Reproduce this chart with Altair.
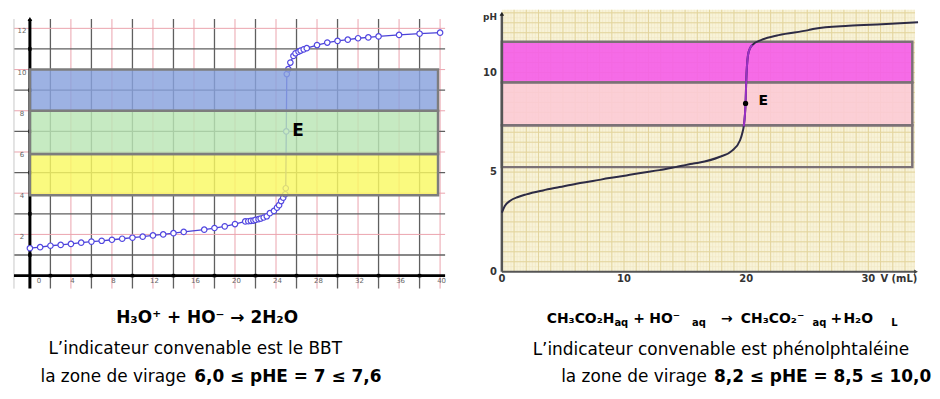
import altair as alt
import pandas as pd
import numpy as np

# ---------------- data: left panel (strong acid titration) ----------------
left_V = [0, 1, 2, 3, 4, 5, 6, 7, 8, 9, 10, 11, 12, 13, 14, 15, 17, 18, 19, 20,
          21.0, 21.3, 21.55, 21.8, 22.0, 22.3, 22.5, 22.8, 23.1, 23.4, 23.8, 24.1,
          24.3, 24.5, 24.7, 24.9, 24.95, 25.0, 25.05, 25.2, 25.4, 25.7, 25.9, 26.2,
          26.4, 26.7, 27.0, 28, 29, 30, 31, 32, 33, 34, 36, 38, 40]
left_pH = [1.33, 1.38, 1.45, 1.49, 1.54, 1.60, 1.65, 1.69, 1.74, 1.79, 1.84, 1.89,
           1.95, 2.00, 2.06, 2.12, 2.23, 2.31, 2.39, 2.50,
           2.63, 2.64, 2.66, 2.67, 2.71, 2.74, 2.77, 2.82, 2.88, 3.03, 3.14, 3.30,
           3.42, 3.62, 3.78, 3.95, 4.24, 7.0, 9.78, 10.02, 10.34, 10.66, 10.79, 10.87,
           10.92, 10.98, 11.04, 11.19, 11.31, 11.39, 11.45, 11.52, 11.56, 11.61,
           11.68, 11.74, 11.79]
left_band_lo = [3.9, 5.9, 8.0]
left_band_hi = [5.9, 8.0, 10.0]
left_band_colors = ["#f9f963", "#bae5b5", "#88a1dd"]
left_band_end = 39.8
left_E = (25.0, 7.0)
left_x_ticks = [0, 4, 8, 12, 16, 20, 24, 28, 32, 36, 40]
left_y_ticks = [2, 4, 6, 8, 10, 12]
left_red_v = [4, 8, 12, 16, 20, 24, 28, 32, 36, 40]
left_black_v = [2, 6, 10, 14, 18, 22, 26, 30, 34, 38]
left_red_h = [2, 4, 6, 8, 10, 12]
left_black_h = [1, 3, 5, 7, 9, 11]

# ---------------- data: right panel (weak acid titration) ----------------
right_V = [0, 0.24, 0.65, 1.33, 2.0, 3.37, 4.73, 6.1, 7.45, 8.8, 10.2, 11.5, 12.9,
           14.2, 15.6, 16.1, 17.8, 18.85, 19.5, 19.7, 19.8, 19.9, 19.95, 20.0,
           20.15, 20.3, 20.5, 21.3, 22.66, 25.1, 25.6, 28.4, 31.1, 34.07]
right_pH = [2.97, 3.3, 3.55, 3.75, 3.88, 4.08, 4.25, 4.42, 4.55, 4.70, 4.83, 4.97,
            5.10, 5.25, 5.42, 5.47, 5.76, 6.08, 6.6, 7.0, 7.3, 7.9, 8.45, 9.5,
            10.88, 11.2, 11.38, 11.65, 11.88, 12.13, 12.2, 12.35, 12.43, 12.52]
right_band_lo = [9.5, 7.35]
right_band_hi = [11.55, 9.5]
right_band_colors = ["#f55ce9", "#fccbd6"]
right_outline_lo = 5.25
right_outline_hi = 7.35
right_band_end = 33.6
right_E = (19.95, 8.45)
right_x_ticks = [0, 10, 20, 30]
right_y_ticks = [0, 5, 10]

# ---------------- texts ----------------
left_line1 = "H₃O⁺ + HO⁻ → 2H₂O"
left_line2 = "L’indicateur convenable est le BBT"
left_line3a = "la zone de virage"
left_line3b = "6,0 ≤ pHE = 7 ≤ 7,6"
right_line1 = ["CH₃CO₂H", "aq", "+", "HO⁻", "aq", "→", "CH₃CO₂⁻", "aq", "+", "H₂O", "L"]
right_line2 = "L’indicateur convenable est phénolphtaléine"
right_line3a = "la zone de virage"
right_line3b = "8,2 ≤ pHE = 8,5 ≤ 10,0"

FONT = "DejaVu Sans"

# ---------------- scales ----------------
LW, LH = 433, 280
RW, RH = 418, 280
sxL = alt.Scale(domain=[-1.553, 40.49], nice=False, zero=False)
syL = alt.Scale(domain=[-0.63, 12.9], nice=False, zero=False)
sxR = alt.Scale(domain=[0, 34.07], nice=False, zero=False)
syR = alt.Scale(domain=[-0.85, 13.15], nice=False, zero=False)


def X(f, s):
    return alt.X(f, type="quantitative", scale=s, axis=None)


def Y(f, s):
    return alt.Y(f, type="quantitative", scale=s, axis=None)


def one(**kw):
    return pd.DataFrame({k: [v] for k, v in kw.items()})


def txt(t, x, y, size=17, weight="normal", align="left", color="black"):
    return alt.Chart(one(t=t)).mark_text(
        font=FONT, fontSize=size, fontWeight=weight, align=align,
        baseline="alphabetic", color=color
    ).encode(text="t:N", x=alt.value(x), y=alt.value(y))


# ================= LEFT PANEL =================
lgv = pd.concat([
    pd.DataFrame({"v": left_red_v, "c": "#eba3ad", "w": 1.0}),
    pd.DataFrame({"v": left_black_v, "c": "#5f5f5f", "w": 1.3}),
])
lgh = pd.concat([
    pd.DataFrame({"v": left_red_h, "c": "#eba3ad", "w": 1.0}),
    pd.DataFrame({"v": left_black_h, "c": "#5f5f5f", "w": 1.3}),
])
grid_top, grid_bot, grid_left, grid_right = 12.45, -0.63, -1.553, 40.49

l_vgrid = alt.Chart(lgv).mark_rule().encode(
    x=X("v", sxL), y=alt.Y("a:Q", scale=syL, axis=None), y2="b:Q",
    color=alt.Color("c:N", scale=None), strokeWidth=alt.StrokeWidth("w:Q", scale=None)
).transform_calculate(a=str(grid_bot), b=str(grid_top))
l_hgrid = alt.Chart(lgh).mark_rule().encode(
    y=Y("v", syL), x=alt.X("a:Q", scale=sxL, axis=None), x2="b:Q",
    color=alt.Color("c:N", scale=None), strokeWidth=alt.StrokeWidth("w:Q", scale=None)
).transform_calculate(a=str(grid_left), b=str(grid_right))
l_edge = alt.Chart(one(v=grid_left, a=grid_bot, b=grid_top)).mark_rule(
    color="#c8c8c8", strokeWidth=1).encode(x=X("v", sxL), y=Y("a", syL), y2="b")

ldf = pd.DataFrame({"V": left_V, "pH": left_pH})
l_line = alt.Chart(ldf).mark_line(color="#4a42d8", strokeWidth=1.3).encode(
    x=X("V", sxL), y=Y("pH", syL))
l_pts = alt.Chart(ldf).mark_point(shape="circle", filled=True, fill="white",
                                  stroke="#5247e0", strokeWidth=1.2, size=30,
                                  opacity=1).encode(x=X("V", sxL), y=Y("pH", syL))

lbands = pd.DataFrame({"lo": left_band_lo, "hi": left_band_hi, "c": left_band_colors,
                       "x0": 0.0, "x1": left_band_end})
l_bands = alt.Chart(lbands).mark_rect(fillOpacity=0.82, stroke="#7d7d7d",
                                      strokeWidth=2.5, strokeOpacity=1).encode(
    x=X("x0", sxL), x2="x1", y=Y("lo", syL), y2="hi",
    fill=alt.Fill("c:N", scale=None))

l_xaxis = alt.Chart(one(a=grid_left, b=grid_right, y=0)).mark_rule(
    color="black", strokeWidth=3).encode(x=X("a", sxL), x2="b", y=Y("y", syL))
l_yaxis = alt.Chart(one(a=grid_bot, b=12.45, x=0)).mark_rule(
    color="black", strokeWidth=3).encode(y=Y("a", syL), y2="b", x=X("x", sxL))
l_arrow = alt.Chart(one(x=0, y=12.45)).mark_point(
    shape="triangle-up", filled=True, color="black", size=22, opacity=1).encode(
    x=X("x", sxL), y=Y("y", syL))
l_xdots = alt.Chart(pd.DataFrame({"v": left_black_v})).mark_square(
    color="black", size=12, opacity=1).encode(x=X("v", sxL), y=alt.Y("z:Q", scale=syL, axis=None)
                                              ).transform_calculate(z="0")
l_ydots = alt.Chart(pd.DataFrame({"v": left_black_h})).mark_square(
    color="black", size=12, opacity=1).encode(y=Y("v", syL), x=alt.X("z:Q", scale=sxL, axis=None)
                                              ).transform_calculate(z="0")

lxt = pd.DataFrame({"v": left_x_ticks})
lxt["lab"] = lxt["v"].astype(str)
l_xlab0 = alt.Chart(lxt[lxt.v == 0]).mark_text(
    fontSize=7, color="#666", font="DejaVu Sans", dx=9, dy=5, baseline="middle"
).encode(x=X("v", sxL), y=alt.Y("z:Q", scale=syL, axis=None), text="lab:N").transform_calculate(z="0")
l_xlab = alt.Chart(lxt[lxt.v != 0]).mark_text(
    fontSize=7, color="#666", font="DejaVu Sans", dx=1.5, dy=5, baseline="middle"
).encode(x=X("v", sxL), y=alt.Y("z:Q", scale=syL, axis=None), text="lab:N").transform_calculate(z="0")
lyt = pd.DataFrame({"v": left_y_ticks})
lyt["lab"] = lyt["v"].astype(str)
l_ylab = alt.Chart(lyt).mark_text(
    fontSize=7, color="#666", font="DejaVu Sans", dx=-8, dy=3, baseline="middle"
).encode(y=Y("v", syL), x=alt.X("z:Q", scale=sxL, axis=None), text="lab:N").transform_calculate(z="0")

l_E = alt.Chart(one(V=left_E[0], pH=left_E[1], t="E")).mark_text(
    font="DejaVu Sans", fontWeight="bold", fontSize=17, align="left",
    baseline="middle", dx=6, color="black").encode(x=X("V", sxL), y=Y("pH", syL), text="t:N")

l_texts = [
    txt(left_line1, 194, 315, size=17, weight="bold", align="center"),
    txt(left_line2, 182, 346, size=17, align="center"),
    txt(left_line3a, 173, 374, size=17, align="right"),
    txt(left_line3b, 181, 374, size=17, weight="bold", align="left"),
]

left = alt.layer(
    l_vgrid, l_hgrid, l_edge, l_xaxis, l_yaxis, l_arrow, l_xdots, l_ydots,
    l_line, l_pts, l_bands, l_xlab0, l_xlab, l_ylab, l_E, *l_texts
).properties(width=LW, height=LH)

# ================= RIGHT PANEL =================
beige_top = 13.15
beige_right = 33.82
r_bg = alt.Chart(one(x0=0, x1=beige_right, y0=0, y1=beige_top)).mark_rect(
    color="#f8f3d8").encode(x=X("x0", sxR), x2="x1", y=Y("y0", syR), y2="y1")

minor_v = np.round(np.arange(0.25, beige_right, 0.25), 3)
minor_h = np.round(np.arange(0.25, beige_top, 0.25), 3)
major_v = np.arange(1, 34, 1)
major_h = np.round(np.arange(0.5, 13.1, 0.5), 3)

r_minv = alt.Chart(pd.DataFrame({"v": minor_v})).mark_rule(
    color="#efe6c3", strokeWidth=0.6).encode(
    x=X("v", sxR), y=alt.Y("a:Q", scale=syR, axis=None), y2="b:Q"
).transform_calculate(a="0", b=str(beige_top))
r_minh = alt.Chart(pd.DataFrame({"v": minor_h})).mark_rule(
    color="#efe6c3", strokeWidth=0.6).encode(
    y=Y("v", syR), x=alt.X("a:Q", scale=sxR, axis=None), x2="b:Q"
).transform_calculate(a="0", b=str(beige_right))
r_majv = alt.Chart(pd.DataFrame({"v": major_v})).mark_rule(
    color="#e3d59d", strokeWidth=1).encode(
    x=X("v", sxR), y=alt.Y("a:Q", scale=syR, axis=None), y2="b:Q"
).transform_calculate(a="0", b=str(beige_top))
r_majh = alt.Chart(pd.DataFrame({"v": major_h})).mark_rule(
    color="#e3d59d", strokeWidth=1).encode(
    y=Y("v", syR), x=alt.X("a:Q", scale=sxR, axis=None), x2="b:Q"
).transform_calculate(a="0", b=str(beige_right))

rbands = pd.DataFrame({"lo": right_band_lo, "hi": right_band_hi, "c": right_band_colors,
                       "x0": 0.0, "x1": right_band_end})
r_bands = alt.Chart(rbands).mark_rect(fillOpacity=0.9, stroke="#7b7176",
                                      strokeWidth=2.5, strokeOpacity=1).encode(
    x=X("x0", sxR), x2="x1", y=Y("lo", syR), y2="hi",
    fill=alt.Fill("c:N", scale=None))
r_outline = alt.Chart(one(x0=0.0, x1=right_band_end, lo=right_outline_lo,
                          hi=right_outline_hi)).mark_rect(
    fillOpacity=0, stroke="#7b7176", strokeWidth=2.5).encode(
    x=X("x0", sxR), x2="x1", y=Y("lo", syR), y2="hi")

rdf = pd.DataFrame({"V": right_V, "pH": right_pH})
r_line = alt.Chart(rdf).mark_line(color="#2d2b45", strokeWidth=2,
                                  interpolate="monotone").encode(
    x=X("V", sxR), y=Y("pH", syR))
r_purple = alt.Chart(rdf).transform_filter(
    "datum.pH >= 7.3 && datum.pH <= 11.4").mark_line(
    color="#9a2fc4", strokeWidth=2, interpolate="monotone").encode(
    x=X("V", sxR), y=Y("pH", syR))

r_xaxis = alt.Chart(one(a=0, b=33.9, y=0)).mark_rule(
    color="#555", strokeWidth=2).encode(x=X("a", sxR), x2="b", y=Y("y", syR))
r_yaxis = alt.Chart(one(a=0, b=12.95, x=0)).mark_rule(
    color="#555", strokeWidth=2.5).encode(y=Y("a", syR), y2="b", x=X("x", sxR))
r_arrow_y = alt.Chart(one(x=0, y=12.95)).mark_point(
    shape="triangle-up", filled=True, color="#222", size=20, opacity=1).encode(
    x=X("x", sxR), y=Y("y", syR))
r_arrow_x = alt.Chart(one(x=33.9, y=0)).mark_point(
    shape="triangle-right", filled=True, color="#444", size=20, opacity=1).encode(
    x=X("x", sxR), y=Y("y", syR))

rxt = pd.DataFrame({"v": right_x_ticks})
rxt["lab"] = rxt["v"].astype(str)
r_xlab = alt.Chart(rxt).mark_text(
    fontSize=10, fontWeight="bold", color="#333", font="DejaVu Sans", dy=7,
    baseline="middle").encode(x=X("v", sxR), y=alt.Y("z:Q", scale=syR, axis=None),
                              text="lab:N").transform_calculate(z="0")
ryt = pd.DataFrame({"v": right_y_ticks})
ryt["lab"] = ryt["v"].astype(str)
r_ylab = alt.Chart(ryt).mark_text(
    fontSize=10, fontWeight="bold", color="#333", font="DejaVu Sans", dx=-5,
    align="right", baseline="middle").encode(
    y=Y("v", syR), x=alt.X("z:Q", scale=sxR, axis=None), text="lab:N").transform_calculate(z="0")
r_ph = alt.Chart(one(x=0, y=12.95, t="pH")).mark_text(
    fontSize=9, fontWeight="bold", color="#333", font="DejaVu Sans", dx=-5, dy=3,
    align="right", baseline="middle").encode(x=X("x", sxR), y=Y("y", syR), text="t:N")
r_vml = alt.Chart(one(x=32.5, y=0, t="V (mL)")).mark_text(
    fontSize=10, fontWeight="bold", color="#333", font="DejaVu Sans", dy=7,
    baseline="middle").encode(x=X("x", sxR), y=Y("y", syR), text="t:N")

r_Edot = alt.Chart(one(V=right_E[0], pH=right_E[1])).mark_circle(
    color="black", size=28, opacity=1).encode(x=X("V", sxR), y=Y("pH", syR))
r_E = alt.Chart(one(V=right_E[0], pH=right_E[1], t="E")).mark_text(
    font="DejaVu Sans", fontWeight="bold", fontSize=14, align="left",
    baseline="middle", dx=13, dy=-2, color="black").encode(
    x=X("V", sxR), y=Y("pH", syR), text="t:N")

# line 1 pieces (bold main, small subscripts)
r1_pos = [45, 113, 132, 148, 191, 220, 240, 312, 330, 343, 391]
r1_small = [False, True, False, False, True, False, False, True, False, False, True]
r_texts = []
for piece, px, sm in zip(right_line1, r1_pos, r1_small):
    if sm:
        r_texts.append(txt(piece, px, 318, size=10, weight="bold"))
    else:
        r_texts.append(txt(piece, px, 315, size=14, weight="bold"))
r_texts += [
    txt(right_line2, 220, 347, size=17, align="center"),
    txt(right_line3a, 206, 374, size=17, align="right"),
    txt(right_line3b, 213, 374, size=17, weight="bold", align="left"),
]

right = alt.layer(
    r_bg, r_minv, r_minh, r_majv, r_majh, r_bands, r_outline,
    r_xaxis, r_yaxis, r_arrow_y, r_arrow_x, r_line, r_purple,
    r_xlab, r_ylab, r_ph, r_vml, r_Edot, r_E, *r_texts
).properties(width=RW, height=RH)

chart = alt.hconcat(
    left, right, spacing=57, bounds="flush",
    padding={"left": 4, "top": 0, "right": 0, "bottom": 0}
).configure_view(strokeWidth=0).properties(background="white")

chart.save("out.html", embed_options={"renderer": "svg", "actions": False})
